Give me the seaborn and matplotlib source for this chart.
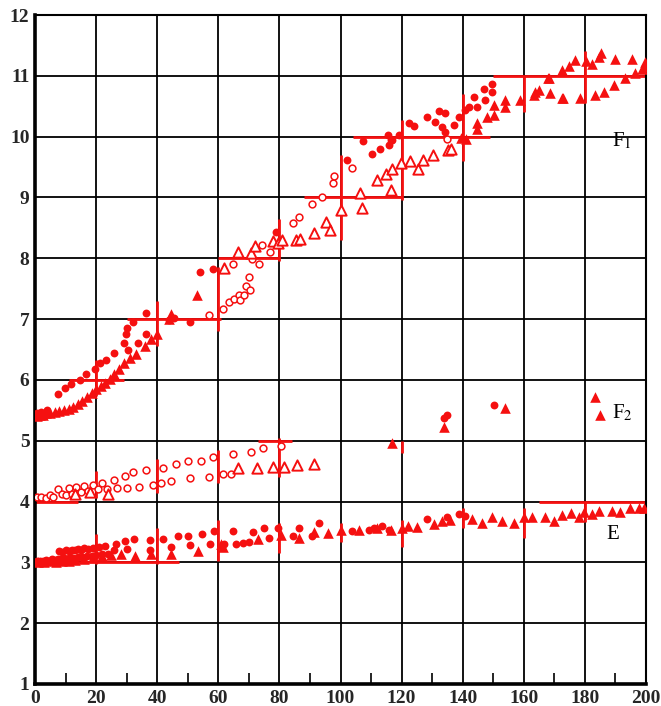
import numpy as np
import pandas as pd
import matplotlib
matplotlib.use("Agg")
import matplotlib.pyplot as plt
import seaborn as sns

# ---------------- data ----------------
# F1 branch: filled circles
f1_circ_x = [0.5, 2, 4, 7.5, 9.8, 11.8, 14.7, 16.7, 19.6, 21.2, 23.2, 25.8, 29.1, 29.7, 30.1, 32, 36.3,
             30.4, 33.7, 36.3, 44, 45.5, 50.7, 53.9, 58.2, 79,
             102, 107.5, 110.2, 113, 115.4, 117, 119.2, 122.4, 124.1, 115.9, 116.4,
             128.4, 132.2, 134.3, 131, 133.3, 134.3, 137.1, 138.8, 140.8, 142, 143.7, 144.8, 147, 149.7, 149.7, 147.4]
f1_circ_y = [5.45, 5.48, 5.5, 5.77, 5.87, 5.94, 6.0, 6.1, 6.18, 6.27, 6.33, 6.45, 6.61, 6.76, 6.86, 6.96, 7.1,
             6.5, 6.6, 6.76, 6.98, 7.02, 6.96, 7.78, 7.83, 8.43,
             9.61, 9.93, 9.71, 9.79, 10.02, 9.94, 10.02, 10.22, 10.17, 9.86, 9.94,
             10.32, 10.42, 10.39, 10.24, 10.16, 10.08, 10.19, 10.32, 10.43, 10.49, 10.65, 10.49, 10.79, 10.87, 10.74, 10.61]

# F1 branch: filled triangles
f1_tri_x = [0.5, 1.5, 2.5, 3.5, 5, 6.5, 8, 9.5, 11, 12.5, 14, 15.5, 17, 18.5, 20, 21.5, 23, 24.5, 26, 27.5,
            29, 31, 33, 36, 38, 40, 44, 44.5, 53,
            139.3, 141, 144.8, 144.8, 148, 150.2, 150.2, 154, 154, 158.9, 163.8, 168.7, 172.5, 168.2, 178.5,
            183.4, 186.2, 189.6, 193.2, 196.5, 199.2, 163.3, 164.9, 172.9, 172.5, 174.7, 176.9, 180.2, 182.4,
            184.5, 185.3, 190, 195.4, 199.8, 198.7, 167.9]
f1_tri_y = [5.40, 5.42, 5.43, 5.45, 5.46, 5.47, 5.49, 5.5, 5.52, 5.55, 5.6, 5.65, 5.72, 5.78, 5.85, 5.9, 5.95,
            6.02, 6.1, 6.18, 6.27, 6.36, 6.42, 6.55, 6.68, 6.75, 7.0, 7.08, 7.4,
            9.98, 9.96, 10.13, 10.22, 10.33, 10.35, 10.52, 10.49, 10.6, 10.61, 10.74, 10.71, 10.64, 10.97, 10.63,
            10.68, 10.73, 10.85, 10.97, 11.05, 11.15, 10.68, 10.76, 10.63, 11.09, 11.16, 11.26, 11.25, 11.2,
            11.31, 11.37, 11.27, 11.27, 11.23, 11.12, 10.97]

# F1 branch: open circles
f1_ocirc_x = [57.1, 61.4, 63.6, 65.3, 66.9, 67.2, 68.5, 69.1, 70.2, 70.5, 64.7, 73.4, 70.9, 74.3, 77,
              84.3, 86.5, 90.8, 93.8, 97.4, 97.9, 103.9, 134.8]
f1_ocirc_y = [7.07, 7.17, 7.28, 7.33, 7.39, 7.32, 7.39, 7.55, 7.69, 7.48, 7.91, 7.91, 7.99, 8.22, 8.10,
              8.58, 8.68, 8.9, 9.0, 9.23, 9.35, 9.49, 9.96]

# F1 branch: open triangles
f1_otri_x = [61.8, 66.3, 70.7, 72, 77.8, 79.5, 81, 85.4, 86.8, 91.4, 95.2, 96.5, 100.3, 106.3, 107.2,
             112, 114.8, 117, 116.4, 119.7, 122.8, 125.5, 127.1, 130.4, 135.3, 136.3]
f1_otri_y = [7.84, 8.1, 8.08, 8.21, 8.28, 8.25, 8.3, 8.3, 8.32, 8.41, 8.6, 8.46, 8.8, 9.07, 8.82,
             9.29, 9.38, 9.47, 9.13, 9.56, 9.6, 9.46, 9.61, 9.69, 9.78, 9.8]

# F2 branch: open circles
f2_ocirc_x = [0.5, 2, 3.5, 5, 6, 7.5, 9, 10, 11, 12, 13.5, 15, 16, 17.5, 19, 20.5, 22, 23.5, 25.8, 27, 29.3,
              32, 36.4, 41.8, 46.2, 50, 54.2, 58.2, 64.7, 70.7, 74.5, 80.5,
              30, 34.2, 38.6, 41.3, 44.5, 50.9, 57.1, 61.4, 64.2]
f2_ocirc_y = [4.07, 4.08, 4.06, 4.1, 4.08, 4.21, 4.12, 4.1, 4.22, 4.13, 4.24, 4.15, 4.25, 4.17, 4.28, 4.2, 4.3,
              4.2, 4.35, 4.22, 4.42, 4.48, 4.52, 4.55, 4.62, 4.66, 4.67, 4.73, 4.78, 4.82, 4.88, 4.92,
              4.22, 4.24, 4.28, 4.3, 4.34, 4.38, 4.41, 4.45, 4.46]

# F2 branch: open triangles
f2_otri_x = [13, 18, 24, 66.3, 72.6, 77.8, 81.4, 85.7, 91.4]
f2_otri_y = [4.12, 4.15, 4.13, 4.55, 4.55, 4.57, 4.57, 4.6, 4.62]

# F2 branch: filled points
f2_tri_x = [117, 133.9, 154, 183.4, 185.1]
f2_tri_y = [4.97, 5.22, 5.54, 5.72, 5.43]
f2_circ_x = [133.9, 135, 150.2]
f2_circ_y = [5.38, 5.42, 5.59]

# E branch: filled circles
e_circ_x = [0.5, 1.5, 2.5, 3.5, 4.5, 5.5, 6.5, 7.5, 8.5, 9.5, 10.5, 11.5, 12.5, 14, 15.5, 17, 18.5, 20, 22, 24,
            8, 9, 10, 11, 12, 13, 14, 15, 16, 17.5, 19, 21.1, 23, 26.6, 29.3, 32.4, 37.5, 41.8, 46.7, 50.2,
            54.6, 58.5, 64.7, 71.2, 74.8, 79.4, 86.5, 93, 103.9, 109.4, 111, 113.7, 128.4, 135, 140.9,
            26, 30, 37.5, 44.5, 50.9, 57.4, 62, 65.8, 68, 70, 76.7, 84.3, 90.8, 115.9, 138.8]
e_circ_y = [3.02, 3.03, 3.02, 3.04, 3.03, 3.05, 3.04, 3.06, 3.05, 3.07, 3.06, 3.08, 3.07, 3.09, 3.08, 3.1, 3.11,
            3.12, 3.13, 3.14,
            3.18, 3.17, 3.2, 3.19, 3.21, 3.2, 3.22, 3.21, 3.23, 3.22, 3.24, 3.26, 3.27, 3.31, 3.35, 3.38, 3.36,
            3.39, 3.43, 3.43, 3.46, 3.52, 3.52, 3.5, 3.57, 3.57, 3.57, 3.65, 3.52, 3.54, 3.56, 3.6, 3.71, 3.74,
            3.76,
            3.21, 3.22, 3.21, 3.25, 3.29, 3.3, 3.3, 3.31, 3.32, 3.33, 3.4, 3.43, 3.43, 3.54, 3.79]

# E branch: filled triangles
e_tri_x = [1, 3, 5, 7, 9, 11, 13, 16, 19, 22, 25, 28, 32.6, 38, 44.5, 53.3, 60.9, 61.4, 72.9, 80.5, 86.5,
           91.4, 95.8, 100.1, 106.1, 112, 116.4, 120, 122, 125.2, 130.6, 133.3, 136, 143.1, 146.4, 149.7,
           152.9, 156.8, 160, 162.7, 167.1, 169.8, 172.5, 175.3, 178, 179.6, 182.4, 184.5, 188.9, 191.6,
           194.9, 197.6, 199.2]
e_tri_y = [3.0, 3.01, 3.02, 3.0, 3.03, 3.02, 3.04, 3.05, 3.08, 3.1, 3.12, 3.14, 3.1, 3.13, 3.13, 3.19, 3.3,
           3.25, 3.38, 3.45, 3.4, 3.5, 3.49, 3.53, 3.54, 3.57, 3.54, 3.57, 3.6, 3.58, 3.63, 3.68, 3.7, 3.71,
           3.65, 3.74, 3.68, 3.65, 3.74, 3.74, 3.74, 3.68, 3.78, 3.81, 3.74, 3.82, 3.79, 3.84, 3.84, 3.82,
           3.89, 3.9, 3.9]

# red reference segments: horizontal (y, x0, x1) and vertical (x, y0, y1)
red_h = [(6, 11, 29), (7, 30, 61), (8, 60, 80), (9, 88, 120), (10, 104, 149), (11, 150, 200),
         (4, 0, 14), (5, 73, 84), (3, 0, 47), (4, 165, 200)]
red_v = [(20, 5.74, 6.32), (40, 6.56, 7.3), (60, 6.8, 7.85), (80, 7.96, 8.64), (100, 8.3, 9.7),
         (120, 8.96, 10.27), (140, 9.6, 10.7), (160, 10.4, 11.0), (180, 10.55, 11.4), (200, 10.9, 11.43),
         (20, 4.06, 4.5), (40, 4.14, 4.7), (60, 4.3, 4.85), (80, 4.4, 5.05), (120, 4.8, 5.0),
         (20, 2.97, 3.47), (40, 2.97, 3.57), (60, 3.03, 3.69), (80, 3.15, 3.64), (100, 3.33, 3.64),
         (120, 3.25, 3.69), (140, 3.57, 3.9), (160, 3.4, 3.9), (180, 3.66, 4.0), (200, 3.69, 3.98)]

x_ticks = list(range(0, 201, 20))
x_minor = list(range(10, 200, 20))
y_ticks = list(range(1, 13))
labels = {"F1": (189, 9.93), "F2": (189, 5.45), "E": (187, 3.45)}

# ---------------- plot ----------------
sns.set_style("white")
plt.rcParams["font.family"] = ["Liberation Serif", "DejaVu Serif"]
plt.rcParams["mathtext.fontset"] = "stix"

fig = plt.figure(figsize=(6.61, 7.06), dpi=100)
ax = fig.add_axes([35 / 661, 1 - 684 / 706, (646 - 35) / 661, (684 - 15) / 706])

RED = "#f51010"
for x, y0, y1 in red_v:
    ax.plot([x, x], [y0, y1], color=RED, lw=2.0, zorder=2, solid_capstyle="butt")
for y, x0, x1 in red_h:
    ax.plot([x0, x1], [y, y], color=RED, lw=2.0, zorder=2, solid_capstyle="butt")

def df(xs, ys):
    return pd.DataFrame({"x": xs, "y": ys})

filled_c = pd.concat([df(f1_circ_x, f1_circ_y), df(f2_circ_x, f2_circ_y), df(e_circ_x, e_circ_y)])
filled_t = pd.concat([df(f1_tri_x, f1_tri_y), df(f2_tri_x, f2_tri_y), df(e_tri_x, e_tri_y)])
open_c = pd.concat([df(f1_ocirc_x, f1_ocirc_y), df(f2_ocirc_x, f2_ocirc_y)])
open_t = pd.concat([df(f1_otri_x, f1_otri_y), df(f2_otri_x, f2_otri_y)])

sns.scatterplot(data=filled_c, x="x", y="y", marker="o", s=32, color=RED, edgecolor=RED,
                linewidth=0, ax=ax, zorder=4, legend=False)
sns.scatterplot(data=filled_t, x="x", y="y", marker="^", s=58, color=RED, edgecolor=RED,
                linewidth=0, ax=ax, zorder=4, legend=False)
sns.scatterplot(data=open_c, x="x", y="y", marker="o", s=24, facecolor="white", edgecolor=RED,
                linewidth=1.1, ax=ax, zorder=4, legend=False)
sns.scatterplot(data=open_t, x="x", y="y", marker="^", s=55, facecolor="white", edgecolor=RED,
                linewidth=1.4, ax=ax, zorder=4, legend=False)

ax.set_xlim(0, 200)
ax.set_ylim(1, 12)
ax.set_xticks(x_ticks)
ax.set_yticks(y_ticks)
ax.set_xticks(x_minor, minor=True)
ax.grid(True, which="major", color="black", lw=1.3, zorder=1)
ax.set_axisbelow(True)
ax.tick_params(axis="both", which="major", length=0, pad=4, labelsize=14)
ax.tick_params(axis="x", which="minor", bottom=True, direction="in", length=8, width=1.2, color="black")
for lab in ax.get_xticklabels() + ax.get_yticklabels():
    lab.set_fontweight("bold")
ax.set_xlabel("")
ax.set_ylabel("")
for side, lw in [("left", 2.6), ("bottom", 2.6), ("top", 1.5), ("right", 1.5)]:
    ax.spines[side].set_visible(True)
    ax.spines[side].set_color("black")
    ax.spines[side].set_linewidth(lw)

ax.text(*labels["F1"], r"F$_{\rm 1}$", fontsize=15, color="black", va="center", ha="left", zorder=5)
ax.text(*labels["F2"], r"F$_{\rm 2}$", fontsize=15, color="black", va="center", ha="left", zorder=5)
ax.text(*labels["E"], "E", fontsize=15, color="black", va="center", ha="left", zorder=5)

fig.savefig("out.png", dpi=100)
